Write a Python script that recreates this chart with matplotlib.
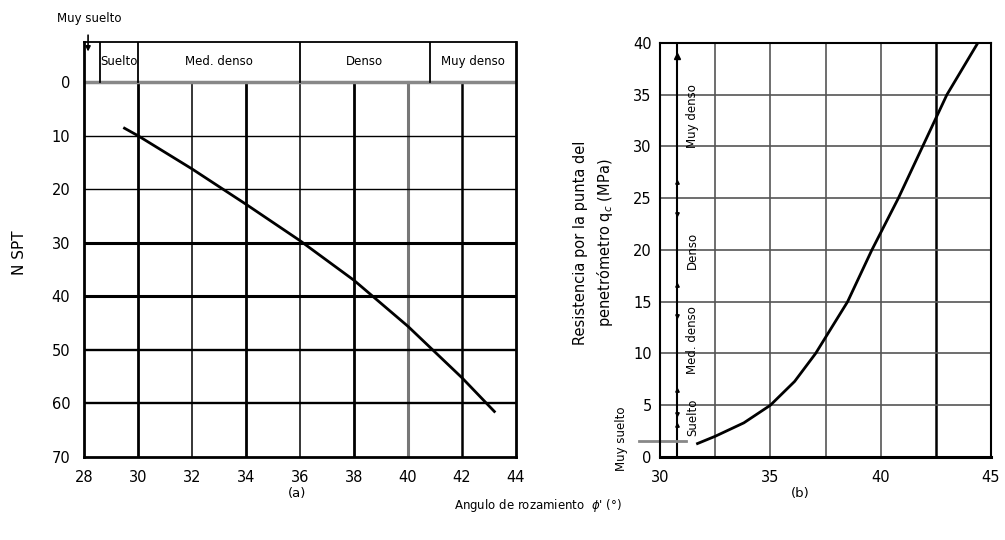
import matplotlib.pyplot as plt

plt.rcParams['font.family'] = ['DejaVu Sans']

# (a) N SPT frente a angulo de rozamiento
phi_a = [29.5, 30, 32, 34, 36, 38, 40, 42, 43.2]
nspt_a = [8.6, 10, 16.2, 22.8, 29.6, 37.0, 45.6, 55.2, 61.5]
xticks_a = [28, 30, 32, 34, 36, 38, 40, 42, 44]
yticks_a = [0, 10, 20, 30, 40, 50, 60, 70]
zonas_a = ['Suelto', 'Med. denso', 'Denso', 'Muy denso']
limites_a = [28.6, 30, 36, 40.8, 44]
muy_suelto_a = 28.15

# (b) resistencia por punta qc frente a angulo
phi_b = [31.7, 32.5, 33.8, 35, 36.1, 37.05, 38.5, 39.6, 40.8, 41.9, 43.0,
         44.4]
qc_b = [1.3, 2.0, 3.3, 5, 7.3, 10, 15, 20, 25, 30, 35, 40]
xticks_b = [30, 35, 40, 45]
yticks_b = [0, 5, 10, 15, 20, 25, 30, 35, 40]
zonas_b = ['Suelto', 'Med. denso', 'Denso', 'Muy denso']
centros_b = [3.8, 11.3, 20, 32.9]
marcas_b = [3.1, 4.2, 6.5, 13.6, 16.6, 23.5, 26.6]
eje_zonas_b = 30.75
muy_suelto_b = 1.5


def panel_a(ax):
    ax.set_xlim(28, 44)
    ax.set_ylim(70, -7.5)
    # rejilla
    v_lw = {30: 2.0, 32: 1.1, 34: 2.0, 36: 1.1, 38: 2.0, 40: 2.2, 42: 1.8}
    for x, lw in v_lw.items():
        col = '#777777' if x == 40 else 'black'
        ax.plot([x, x], [0, 70], color=col, lw=lw)
    h_lw = {10: 1.0, 20: 1.0, 30: 2.2, 40: 2.2, 50: 1.7, 60: 1.7}
    for y, lw in h_lw.items():
        ax.plot([28, 44], [y, y], color='black', lw=lw)
    ax.plot([28, 44], [0, 0], color='#888888', lw=2.5)

    # cabecera
    for x in limites_a[:-1]:
        ax.plot([x, x], [-7.5, 0], color='black', lw=1.3)
    for i, z in enumerate(zonas_a):
        xc = (limites_a[i] + limites_a[i + 1]) / 2
        ax.text(xc, -3.8, z, ha='center', va='center', fontsize=8.5)
    ax.annotate('', xy=(muy_suelto_a, -5.2), xytext=(muy_suelto_a, -9.3),
                arrowprops=dict(arrowstyle='-|>', color='black', lw=1.2,
                                mutation_scale=7),
                annotation_clip=False)
    ax.text(muy_suelto_a + 0.05, -11.9, 'Muy suelto', ha='center',
            va='center', fontsize=8.5, clip_on=False)

    ax.plot(phi_a, nspt_a, color='black', lw=2.0)

    ax.set_xticks(xticks_a)
    ax.set_yticks(yticks_a)
    ax.tick_params(length=0, labelsize=10.5)
    ax.tick_params(axis='x', pad=9)
    ax.tick_params(axis='y', pad=10)
    for s in ax.spines.values():
        s.set_linewidth(2.0)
    ax.spines['top'].set_linewidth(1.3)


def panel_b(ax):
    ax.set_xlim(30, 45)
    ax.set_ylim(0, 40)
    for x in [32.5, 35, 37.5, 40]:
        ax.axvline(x, color='#555555', lw=1.2)
    ax.axvline(42.5, color='black', lw=1.8)
    for y in yticks_b[1:-1]:
        ax.axhline(y, color='#555555', lw=1.2)

    # eje de zonas
    ax.plot([eje_zonas_b, eje_zonas_b], [0, 40], color='black', lw=1.5)
    ax.plot([eje_zonas_b], [38.7], marker='^', color='black', ms=4)
    for i, m in enumerate(marcas_b):
        ax.plot([eje_zonas_b], [m], marker='^' if i % 2 == 0 else 'v',
                color='black', ms=2.5)
    for z, c in zip(zonas_b, centros_b):
        ax.text(eje_zonas_b + 0.72, c, z, rotation=90, ha='center',
                va='center', fontsize=8.5)
    ax.plot([29.05, 31.2], [muy_suelto_b, muy_suelto_b], color='#888888',
            lw=2.0, clip_on=False)
    ax.text(28.27, 1.8, 'Muy suelto', rotation=90, ha='center', va='center',
            fontsize=8.5, clip_on=False)

    ax.plot(phi_b, qc_b, color='black', lw=2.0)

    ax.set_xticks(xticks_b)
    ax.set_yticks(yticks_b)
    ax.tick_params(length=0, labelsize=10.5)
    ax.tick_params(axis='x', pad=9)
    ax.tick_params(axis='y', pad=6)
    for s in ax.spines.values():
        s.set_linewidth(1.5)
    ax.spines['bottom'].set_linewidth(2.2)


fig = plt.figure(figsize=(10.05, 5.4), dpi=100)
ax1 = fig.add_axes([0.0836, 0.1537, 0.4298, 0.7685])
ax2 = fig.add_axes([0.6567, 0.1537, 0.3294, 0.7667])
panel_a(ax1)
panel_b(ax2)

fig.text(20 / 1005, 1 - 253 / 540, 'N SPT', rotation=90, ha='center',
         va='center', fontsize=11)
fig.text(594 / 1005, 1 - 243 / 540,
         'Resistencia por la punta del\npenetrómetro q$_c$ (MPa)',
         rotation=90, ha='center', va='center', fontsize=10.5,
         linespacing=1.5)
fig.text(297 / 1005, 1 - 493 / 540, '(a)', ha='center', va='center',
         fontsize=9.5)
fig.text(800 / 1005, 1 - 493 / 540, '(b)', ha='center', va='center',
         fontsize=9.5)
fig.text(538 / 1005, 1 - 505 / 540, "Angulo de rozamiento  $\\phi$' (°)",
         ha='center', va='center', fontsize=8.5)

fig.savefig('out.png', dpi=100)
